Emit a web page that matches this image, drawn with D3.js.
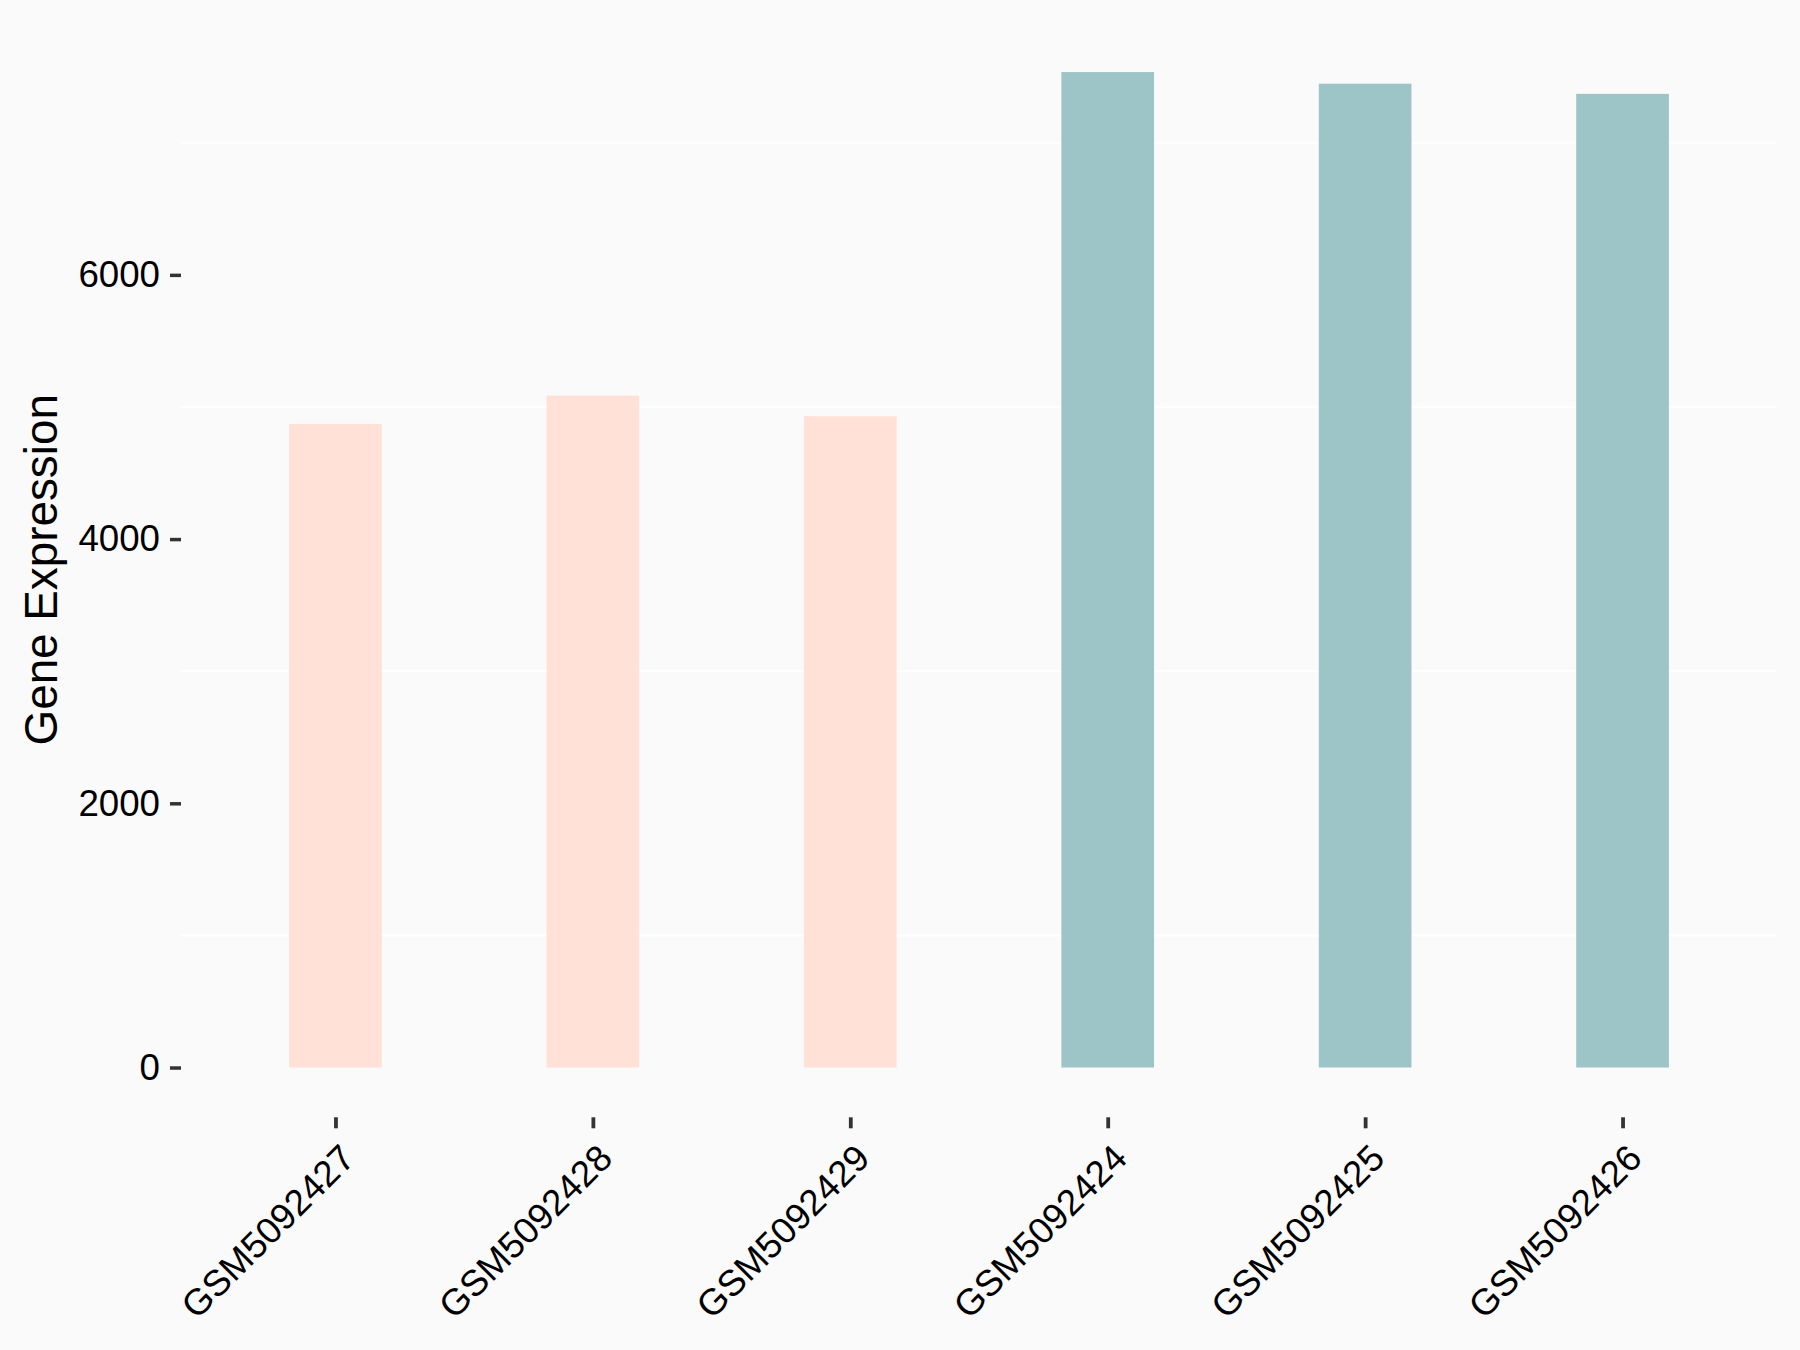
<!DOCTYPE html>
<html>
<head>
<meta charset="utf-8">
<script src="https://cdn.jsdelivr.net/npm/d3@7"></script>
<style>
  html, body { margin: 0; padding: 0; background: #FAFAFA; }
  svg { display: block; }
</style>
</head>
<body>
<svg id="chart" width="1800" height="1350"></svg>
<script>
// ---- data ----
const samples = ["GSM5092427", "GSM5092428", "GSM5092429", "GSM5092424", "GSM5092425", "GSM5092426"];
const expression = [4872, 5086, 4930, 7535, 7447, 7370];
const groups = ["A", "A", "A", "B", "B", "B"];
const groupColors = { A: "#FFE1D7", B: "#9DC4C7" };
const yTicks = [0, 2000, 4000, 6000];
const yMinorGrid = [1000, 3000, 5000, 7000];
const yTitle = "Gene Expression";

// ---- layout ----
const W = 1800, H = 1350;
const panel = { left: 181, right: 1777, top: 22.3, bottom: 1117.3 };
const svg = d3.select("#chart");
svg.append("rect").attr("width", W).attr("height", H).attr("fill", "#FAFAFA");

const maxV = d3.max(expression);
const y = d3.scaleLinear()
  .domain([-0.05 * maxV, 1.05 * maxV])
  .range([panel.bottom, panel.top]);
const x = d3.scalePoint()
  .domain(samples)
  .range([panel.left, panel.right])
  .padding(0.6);
const barW = x.step() * 0.36;

// grid (minor lines, white)
svg.append("g").selectAll("line").data(yMinorGrid).join("line")
  .attr("x1", panel.left).attr("x2", panel.right)
  .attr("y1", d => y(d)).attr("y2", d => y(d))
  .attr("stroke", "#FFFFFF").attr("stroke-width", 2.2);

// bars
svg.append("g").selectAll("rect").data(samples).join("rect")
  .attr("x", (d) => x(d) - barW / 2)
  .attr("width", barW)
  .attr("y", (d, i) => y(expression[i]))
  .attr("height", (d, i) => y(0) - y(expression[i]))
  .attr("fill", (d, i) => groupColors[groups[i]]);

// y axis
const yAxis = d3.axisLeft(y).tickValues(yTicks).tickSize(11).tickPadding(10).tickFormat(d3.format("d"));
const gy = svg.append("g").attr("transform", `translate(${panel.left},0)`).call(yAxis);
gy.select(".domain").remove();
gy.selectAll(".tick line").attr("stroke", "#333333").attr("stroke-width", 3.5);
gy.selectAll(".tick text")
  .attr("fill", "#000000")
  .style("font-family", "'Liberation Sans', Arial, sans-serif")
  .style("font-size", "36.7px");

// x axis
const xAxis = d3.axisBottom(x).tickSize(11).tickPadding(0);
const gx = svg.append("g").attr("transform", `translate(0,${panel.bottom})`).call(xAxis);
gx.select(".domain").remove();
gx.selectAll(".tick line").attr("stroke", "#333333").attr("stroke-width", 3.8);
gx.selectAll(".tick text")
  .attr("fill", "#000000")
  .attr("text-anchor", "end")
  .attr("dy", null)
  .attr("y", null)
  .attr("transform", "translate(21,43) rotate(-45)")
  .style("font-family", "'Liberation Sans', Arial, sans-serif")
  .style("font-size", "36.7px");

// y title
svg.append("text")
  .attr("transform", `translate(57,${(panel.top + panel.bottom) / 2}) rotate(-90)`)
  .attr("text-anchor", "middle")
  .attr("fill", "#000000")
  .style("font-family", "'Liberation Sans', Arial, sans-serif")
  .style("font-size", "45.8px")
  .text(yTitle);
</script>
</body>
</html>
